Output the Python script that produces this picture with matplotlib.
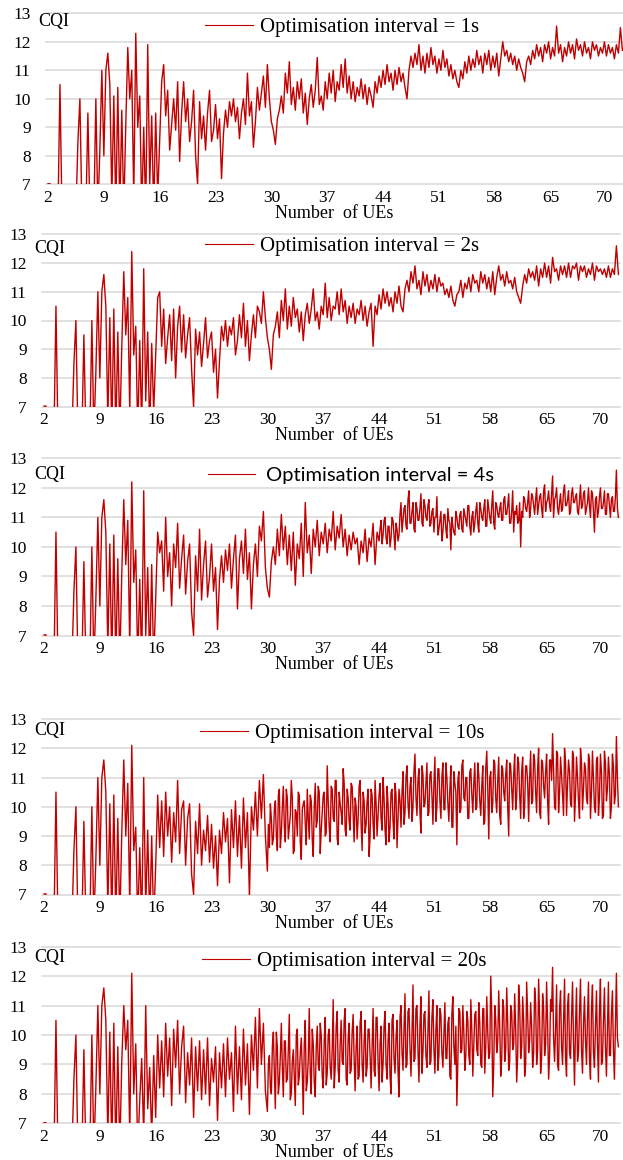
import numpy as np
import matplotlib.pyplot as plt

# CQI versus number of UEs, one panel per optimisation interval.
# Values below 7 fall off the axis (drawn as 6.0 and clipped).

# x = 2.0 .. 11.75, step 0.25 (same start in every run)
cqi_start = [
    7.02, 7.02, 6.0, 6.0, 6.0, 6.0, 10.5, 6.0, 6.0, 6.0,
    6.0, 6.0, 6.0, 6.0, 6.0, 8.5, 10.0, 6.0, 6.0, 6.0,
    9.5, 6.0, 6.0, 6.0, 10.0, 6.0, 8.2, 11.0, 8.0, 11.0,
    11.6, 10.5, 6.5, 10.1, 6.0, 10.4, 6.0, 9.6, 6.0, 9.1,
]

# x = 12.0 .. 74.0, step 0.25
cqi_1s = [
    11.8, 10.0, 11.0, 6.5, 12.3, 9.0, 10.1, 6.0, 9.0, 6.0, 11.9, 7.0, 9.4, 6.0, 9.5, 6.5, 8.5, 10.6, 11.2, 9.4,
    10.3, 8.2, 9.1, 10.0, 8.9, 10.6, 7.8, 9.5, 10.6, 9.2, 10.0, 8.5, 9.2, 10.3, 8.0, 7.0, 9.9, 8.6, 9.4, 8.2,
    9.5, 10.3, 8.5, 8.9, 9.8, 8.6, 9.3, 7.2, 8.8, 9.6, 9.0, 9.9, 9.4, 10.0, 9.2, 9.7, 8.6, 9.5, 10.0, 9.1,
    10.9, 9.4, 9.9, 8.3, 9.2, 10.4, 9.6, 10.2, 10.8, 9.7, 11.2, 10.0, 9.2, 8.9, 8.4, 9.3, 9.6, 10.1, 9.5, 10.9,
    10.2, 11.3, 9.8, 10.4, 9.6, 10.6, 10.0, 10.7, 9.5, 10.2, 9.1, 10.0, 10.5, 9.7, 10.3, 11.45, 9.8, 10.1, 9.6, 10.6,
    10.0, 10.9, 10.2, 11.0, 9.9, 10.6, 10.3, 11.2, 10.4, 11.4, 10.2, 10.8, 10.0, 10.6, 9.9, 10.4, 10.1, 10.7, 10.0, 10.5,
    9.8, 10.4, 10.1, 9.7, 10.6, 10.2, 10.8, 10.4, 11.0, 10.5, 11.2, 10.6, 10.9, 10.3, 11.0, 10.5, 11.1, 10.6, 10.9, 10.4,
    10.0, 11.0, 11.5, 11.1, 11.6, 11.2, 11.9, 11.0, 11.5, 10.9, 11.6, 11.1, 11.8, 11.2, 11.5, 10.9, 11.4, 11.0, 11.7, 11.1,
    11.4, 10.8, 11.2, 10.7, 11.0, 10.6, 10.4, 11.0, 10.7, 11.3, 10.9, 11.5, 11.0, 11.4, 11.1, 11.7, 11.2, 11.5, 10.9, 11.6,
    11.2, 11.7, 11.0, 11.5, 11.1, 11.6, 10.8, 11.4, 12.0, 11.5, 11.7, 11.3, 11.6, 11.2, 11.5, 11.0, 11.4, 11.1, 10.9, 10.6,
    11.3, 11.5, 11.2, 11.7, 11.4, 11.9, 11.5, 11.8, 11.3, 11.9, 11.6, 12.0, 11.4, 11.8, 11.5, 12.55, 11.6, 11.9, 11.3, 11.8,
    11.5, 12.0, 11.6, 11.9, 11.4, 12.1, 11.7, 11.9, 11.5, 12.0, 11.6, 11.8, 11.4, 12.0, 11.7, 11.9, 11.5, 11.8, 11.6, 12.0,
    11.5, 11.9, 11.6, 11.8, 11.4, 11.9, 11.6, 12.5, 11.7,
]

cqi_2s = [
    11.7, 9.5, 10.8, 6.8, 12.4, 8.8, 9.8, 6.0, 9.3, 6.2, 11.8, 7.2, 9.6, 6.0, 9.2, 6.8, 8.8, 10.8, 11.0, 9.1,
    10.4, 8.5, 9.4, 10.2, 8.6, 10.4, 8.0, 9.8, 10.5, 8.9, 10.2, 8.7, 9.5, 10.1, 8.3, 7.0, 9.7, 8.8, 9.6, 8.4,
    9.2, 10.1, 8.7, 9.3, 9.6, 8.2, 9.0, 7.3, 8.6, 9.8, 9.3, 10.0, 9.1, 9.8, 9.5, 10.1, 8.8, 9.3, 10.2, 9.4,
    10.6, 9.1, 10.0, 8.6, 9.5, 10.2, 9.4, 10.5, 10.3, 9.9, 11.0, 10.1, 9.4, 9.0, 8.3, 9.5, 9.8, 10.3, 9.4, 10.7,
    10.0, 11.1, 9.7, 10.5, 9.8, 10.8, 10.1, 10.4, 9.6, 10.3, 9.3, 10.2, 10.6, 9.9, 10.4, 11.1, 10.0, 10.3, 9.7, 10.5,
    10.2, 11.3, 10.1, 10.8, 10.0, 10.5, 10.4, 11.0, 10.2, 11.1, 10.3, 10.7, 9.9, 10.5, 10.1, 10.6, 9.9, 10.4, 10.2, 10.7,
    10.0, 10.5, 9.8, 10.3, 10.6, 9.1, 10.5, 10.2, 10.9, 10.4, 11.1, 10.6, 11.0, 10.5, 10.8, 10.3, 11.0, 10.6, 11.2, 10.5,
    10.3, 11.1, 11.4, 11.0, 11.7, 11.3, 11.9, 11.1, 11.4, 10.9, 11.7, 11.2, 11.6, 11.0, 11.4, 11.1, 11.6, 11.0, 11.5, 11.2,
    11.3, 10.9, 11.1, 10.8, 11.2, 10.7, 10.5, 10.9, 11.0, 11.4, 10.8, 11.3, 11.1, 11.5, 11.0, 11.6, 11.3, 11.4, 11.0, 11.7,
    11.3, 11.6, 11.1, 11.5, 11.0, 11.7, 10.9, 11.5, 11.9, 11.4, 11.6, 11.2, 11.7, 11.3, 11.4, 11.1, 11.5, 11.0, 10.8, 10.6,
    11.2, 11.6, 11.3, 11.8, 11.5, 11.7, 11.4, 11.9, 11.2, 11.8, 11.5, 12.0, 11.5, 11.9, 11.3, 12.2, 11.7, 11.8, 11.4, 11.9,
    11.6, 11.9, 11.5, 12.0, 11.5, 11.9, 11.8, 12.0, 11.4, 11.9, 11.7, 11.9, 11.5, 11.8, 11.6, 12.0, 11.4, 11.9, 11.7, 11.8,
    11.6, 11.8, 11.5, 11.9, 11.5, 11.8, 11.6, 12.6, 11.6,
]

cqi_4s = [
    11.6, 9.4, 10.9, 6.5, 12.2, 8.8, 9.9, 6.0, 8.9, 6.0, 11.9, 7.0, 9.3, 6.0, 9.4, 6.0, 8.2, 10.5, 9.8, 10.2,
    8.5, 11.0, 9.0, 9.8, 8.0, 10.1, 9.3, 10.8, 8.6, 9.6, 10.4, 8.4, 9.5, 10.1, 7.8, 7.0, 9.7, 8.5, 10.6, 8.2,
    9.4, 10.2, 8.3, 9.0, 10.1, 8.5, 9.3, 7.2, 8.9, 9.7, 8.8, 9.9, 9.2, 10.1, 8.6, 9.6, 10.4, 7.9, 9.6, 10.2,
    9.1, 10.6, 8.9, 9.8, 7.9, 9.4, 10.1, 9.0, 10.7, 10.2, 11.2, 9.3, 8.6, 8.3, 9.5, 10.0, 9.4, 10.6, 9.7, 11.1,
    9.9, 10.7, 9.4, 10.4, 9.2, 10.5, 8.7, 10.1, 9.6, 10.8, 9.0, 11.5, 9.8, 10.4, 9.1, 10.6, 10.0, 10.9, 9.7, 10.5,
    10.1, 10.8, 9.8, 10.6, 10.2, 11.2, 9.9, 10.7, 10.3, 11.1, 10.0, 10.6, 9.7, 10.4, 9.9, 10.5, 10.1, 10.3, 9.4, 10.2,
    9.8, 10.6, 9.5, 10.3, 10.0, 10.8, 9.4, 10.5, 10.2, 10.9, 10.4, 11.0, 10.1, 10.7, 10.3, 10.9, 9.9, 10.6, 10.4, 11.5,
    10.9, 11.4, 10.6, 11.9, 10.8, 11.5, 10.5, 11.3, 10.9, 11.8, 10.7, 11.4, 10.9, 11.6, 10.8, 11.3, 11.0, 11.7, 10.6, 11.2,
    10.5, 11.1, 10.3, 10.9, 9.9, 10.7, 10.4, 11.0, 10.6, 11.2, 10.5, 11.1, 10.7, 11.4, 10.4, 11.2, 10.8, 11.5, 10.5, 11.3,
    10.9, 11.6, 10.7, 11.3, 10.8, 11.9, 10.6, 11.4, 11.0, 11.5, 10.9, 11.7, 11.1, 11.8, 10.8, 11.9, 11.2, 11.4, 10.9, 10.0,
    11.0, 11.6, 11.2, 11.9, 11.3, 11.7, 11.1, 12.0, 11.4, 11.8, 11.0, 12.1, 11.5, 11.9, 11.2, 12.4, 11.6, 12.0, 11.1, 11.8,
    11.3, 12.1, 11.4, 11.9, 11.2, 12.0, 11.5, 11.8, 11.1, 12.1, 11.4, 11.9, 11.3, 12.0, 11.0, 11.8, 10.5, 11.7, 11.2, 12.0,
    11.3, 11.9, 11.1, 11.8, 11.0, 11.7, 11.2, 12.6, 11.0,
]

cqi_10s = [
    11.6, 9.0, 10.8, 6.5, 12.1, 8.5, 9.3, 6.0, 8.6, 6.0, 11.0, 6.5, 9.2, 6.0, 9.0, 6.0, 8.0, 10.4, 8.6, 10.2,
    8.3, 10.5, 9.0, 10.0, 8.1, 9.8, 8.8, 10.9, 8.4, 9.9, 10.2, 8.0, 9.6, 10.1, 7.7, 7.0, 9.5, 8.4, 10.1, 8.0,
    9.2, 8.5, 9.7, 8.1, 9.4, 7.9, 9.0, 7.3, 9.2, 8.4, 9.8, 8.8, 9.6, 7.4, 9.9, 8.6, 10.2, 8.3, 9.7, 7.9,
    10.3, 8.6, 9.8, 6.9, 10.0, 9.2, 10.5, 9.0, 10.9, 9.6, 11.1, 9.0, 7.8, 8.6, 9.6, 8.9, 10.2, 8.5, 10.6, 9.1,
    10.7, 8.8, 10.3, 9.3, 10.9, 8.4, 9.9, 9.0, 10.4, 8.2, 10.1, 9.4, 10.6, 8.9, 10.2, 8.3, 10.8, 9.5, 10.5, 9.2,
    10.4, 9.0, 11.4, 9.3, 10.7, 9.6, 10.9, 8.9, 10.5, 9.8, 11.3, 9.2, 10.6, 9.5, 10.8, 9.7, 10.3, 8.9, 10.7, 9.4,
    10.5, 9.1, 10.2, 8.3, 10.6, 9.4, 10.9, 9.0, 10.4, 9.6, 11.0, 9.2, 10.7, 8.8, 10.5, 9.5, 10.8, 8.6, 10.6, 9.3,
    11.2, 9.8, 11.4, 9.6, 11.0, 10.0, 11.8, 9.7, 11.3, 9.1, 11.1, 10.1, 11.5, 9.8, 11.2, 9.4, 11.7, 10.0, 11.3, 9.6,
    11.5, 9.9, 11.0, 9.5, 11.4, 9.3, 10.8, 8.7, 11.2, 9.9, 11.6, 10.2, 11.0, 9.6, 11.3, 9.8, 11.5, 10.0, 11.1, 9.7,
    11.4, 9.5, 11.9, 8.9, 11.2, 10.1, 11.5, 9.8, 11.7, 9.4, 11.3, 10.2, 11.6, 9.0, 11.4, 9.9, 11.8, 10.3, 11.5, 9.6,
    11.7, 10.0, 11.4, 9.5, 11.9, 10.2, 11.6, 9.8, 12.0, 9.6, 11.5, 10.3, 11.8, 9.4, 11.6, 12.5, 10.0, 11.9, 9.8, 11.7,
    10.4, 12.0, 9.7, 11.6, 10.1, 11.9, 9.5, 11.7, 10.2, 12.0, 9.9, 11.5, 10.3, 11.8, 9.6, 11.9, 10.0, 11.6, 9.7, 11.8,
    9.6, 11.9, 10.2, 11.7, 9.6, 11.8, 10.1, 12.4, 10.0,
]

cqi_20s = [
    11.0, 9.5, 10.5, 6.5, 12.1, 8.0, 9.7, 6.0, 7.8, 9.2, 6.5, 11.0, 7.5, 8.9, 6.5, 9.3, 7.2, 10.0, 8.2, 9.8,
    7.9, 10.4, 8.6, 9.9, 7.6, 10.2, 8.9, 10.5, 8.0, 9.6, 10.3, 7.7, 9.4, 8.3, 9.9, 7.2, 9.6, 8.1, 9.8, 7.8,
    9.5, 8.0, 9.9, 7.6, 9.2, 8.4, 9.6, 7.1, 9.4, 8.2, 9.7, 7.9, 9.9, 8.5, 9.4, 7.4, 10.3, 8.0, 9.6, 7.8,
    10.2, 8.3, 9.7, 7.3, 10.0, 8.8, 10.6, 8.2, 10.9, 9.0, 10.4, 8.1, 7.4, 9.3, 8.0, 10.1, 7.5, 9.6, 8.4, 10.4,
    7.9, 9.8, 8.5, 10.7, 8.0, 9.5, 7.6, 10.2, 8.6, 9.9, 7.3, 10.5, 8.4, 10.9, 8.0, 9.7, 7.9, 10.3, 8.8, 10.0,
    8.2, 10.6, 8.7, 10.2, 8.5, 11.2, 8.9, 10.8, 8.4, 10.5, 9.0, 10.9, 8.3, 10.4, 8.8, 10.7, 8.1, 10.3, 8.6, 10.8,
    8.4, 10.5, 8.9, 10.2, 8.2, 10.9, 8.6, 10.6, 8.1, 10.3, 9.0, 10.8, 8.5, 10.4, 8.0, 10.7, 8.7, 10.5, 7.9, 11.0,
    8.8, 11.4, 9.0, 10.9, 8.6, 11.7, 9.2, 11.0, 8.4, 11.3, 9.4, 10.8, 8.9, 11.5, 9.1, 11.2, 8.7, 11.0, 9.3, 10.7,
    8.9, 11.1, 9.2, 10.6, 8.5, 11.3, 9.0, 7.6, 10.9, 9.4, 11.0, 8.8, 10.8, 9.3, 11.2, 8.6, 10.7, 9.5, 11.1, 9.0,
    10.9, 8.7, 11.3, 9.2, 12.0, 7.9, 11.0, 9.4, 11.5, 8.6, 11.2, 9.1, 11.6, 8.8, 11.0, 9.5, 11.4, 8.4, 11.7, 9.2,
    11.3, 8.6, 11.8, 9.4, 11.1, 8.9, 11.6, 9.0, 11.9, 8.7, 11.4, 9.3, 11.8, 8.5, 11.2, 12.3, 9.1, 11.7, 8.8, 11.5,
    9.0, 11.9, 8.6, 11.4, 9.2, 11.8, 8.3, 11.6, 9.4, 11.9, 8.7, 11.3, 9.0, 11.8, 8.5, 11.7, 8.9, 11.5, 8.4, 11.9,
    9.1, 11.6, 8.6, 11.8, 9.3, 11.5, 8.5, 12.1, 9.6,
]

# extra samples half way between the ones above, where the trace is densest
# 4s: x = 44.125 .. 73.875
cqi_4s_mid = [
    10.6, 10.1, 10.9, 10.3, 10.7, 10.0, 11.0, 10.4, 10.8, 10.2, 11.1, 10.5, 11.3, 10.7, 11.6, 10.8, 11.2, 10.6, 11.5, 10.9,
    11.3, 10.8, 11.6, 11.0, 11.4, 10.7, 11.2, 10.5, 11.0, 10.4, 10.9, 10.2, 11.1, 10.6, 11.3, 10.8, 11.0, 10.5, 11.2, 10.7,
    11.1, 10.6, 11.3, 10.9, 11.4, 10.7, 11.0, 10.5, 11.2, 10.8, 11.5, 11.0, 11.3, 10.7, 11.6, 11.0, 11.4, 10.8, 11.5, 11.1,
    11.3, 10.9, 11.6, 11.1, 11.4, 10.8, 11.2, 10.5, 11.1, 10.8, 11.5, 11.2, 11.7, 11.3, 11.5, 11.0, 11.8, 11.4, 11.6, 11.1,
    11.7, 11.3, 11.9, 11.2, 11.6, 11.4, 11.8, 11.0, 11.7, 11.3, 11.5, 11.2, 11.9, 11.4, 11.6, 11.1, 11.8, 11.5, 11.7, 11.2,
    11.6, 11.3, 11.8, 11.1, 11.5, 11.4, 11.9, 11.2, 11.6, 11.0, 11.7, 11.3, 11.5, 11.1, 11.8, 11.4, 11.6, 11.2, 11.7, 11.3,
]

# 10s: x = 30.125 .. 73.875
cqi_10s_mid = [
    9.4, 10.1, 8.7, 9.9, 9.0, 10.4, 8.6, 10.0, 9.3, 10.6, 8.9, 9.7, 10.3, 8.5, 9.8, 10.5, 8.8, 9.9, 10.2, 8.7,
    9.6, 10.4, 8.9, 10.0, 9.3, 10.7, 8.4, 9.8, 10.5, 9.1, 10.2, 8.8, 10.6, 9.5, 10.9, 8.7, 10.1, 9.4, 10.8, 9.0,
    10.3, 9.2, 10.7, 8.8, 10.0, 9.6, 10.9, 8.5, 10.2, 9.4, 10.6, 9.0, 10.4, 8.9, 10.1, 9.7, 10.8, 9.2, 10.3, 8.7,
    10.1, 9.3, 10.6, 8.9, 10.4, 9.6, 10.2, 10.5, 9.4, 11.0, 10.1, 10.7, 9.5, 11.2, 10.3, 10.9, 9.8, 11.4, 10.0, 10.8,
    9.7, 11.1, 10.4, 10.8, 9.5, 11.3, 10.2, 11.0, 9.9, 11.5, 10.1, 10.6, 9.3, 11.2, 10.5, 10.9, 9.8, 11.4, 10.3, 11.0,
    9.6, 11.2, 10.4, 10.8, 9.9, 11.5, 10.2, 10.7, 9.4, 11.3, 10.6, 11.0, 9.8, 11.6, 10.3, 10.9, 9.7, 11.4, 10.5, 11.1,
    10.0, 11.5, 10.6, 11.1, 9.9, 11.7, 10.4, 11.2, 9.6, 11.4, 10.8, 11.0, 10.1, 11.8, 10.5, 11.3, 9.8, 11.6, 10.7, 11.2,
    10.2, 11.6, 10.9, 11.3, 9.9, 11.8, 10.5, 11.1, 9.7, 11.5, 10.8, 11.2, 10.0, 11.7, 10.4, 11.0, 9.6, 11.5, 10.6, 11.3,
    10.1, 11.6, 10.5, 11.0, 9.8, 11.7, 10.3, 11.2, 9.7, 11.5, 10.6, 11.1, 10.0, 11.4, 10.4, 11.0,
]

# 20s: x = 30.125 .. 73.875
cqi_20s_mid = [
    9.0, 8.2, 9.6, 8.7, 10.1, 8.0, 9.3, 8.9, 9.8, 8.4, 9.5, 7.8, 9.1, 8.6, 10.0, 8.3, 9.4, 8.8, 9.7, 8.1,
    9.2, 8.7, 10.2, 8.4, 9.6, 9.0, 10.4, 8.6, 9.8, 8.3, 10.0, 8.9, 9.5, 8.2, 10.3, 8.8, 9.7, 9.1, 10.5, 8.5,
    9.9, 8.7, 10.1, 9.2, 9.6, 8.5, 10.4, 9.0, 9.8, 8.6, 10.2, 9.3, 9.5, 8.8, 10.6, 9.1, 9.7, 8.4, 10.3, 9.0,
    9.8, 8.6, 10.5, 9.2, 9.9, 8.8, 10.6, 9.4, 10.2, 8.9, 10.8, 9.6, 10.0, 9.1, 10.9, 9.5, 10.3, 8.7, 10.7, 9.3,
    10.1, 9.0, 10.6, 9.5, 10.2, 8.8, 10.9, 9.4, 10.0, 9.2, 10.4, 8.6, 10.7, 9.6, 10.3, 9.1, 10.8, 9.5, 10.1, 9.3,
    10.5, 9.0, 10.2, 9.7, 10.8, 9.3, 10.4, 8.9, 10.9, 9.6, 10.1, 9.4, 10.7, 9.0, 10.5, 9.8, 10.3, 9.2, 10.9, 9.5,
    10.4, 9.1, 10.8, 9.7, 10.2, 9.3, 11.0, 9.6, 10.5, 9.0, 10.7, 9.8, 10.3, 9.4, 11.1, 9.5, 10.6, 9.2, 10.9, 9.7,
    10.4, 9.3, 10.8, 9.9, 10.2, 9.0, 10.9, 9.6, 10.5, 9.2, 11.0, 9.4, 10.6, 9.7, 10.3, 9.1, 10.8, 9.5, 10.4, 9.8,
    10.6, 9.2, 10.9, 9.4, 10.3, 9.7, 10.8, 9.0, 10.5, 9.6, 10.2, 9.3, 10.7, 9.5, 10.4, 9.9,
]

series = [cqi_1s, cqi_2s, cqi_4s, cqi_10s, cqi_20s]
extras = [None, None, (44.125, cqi_4s_mid), (30.125, cqi_10s_mid), (30.125, cqi_20s_mid)]
legend_labels = ['Optimisation interval = 1s', 'Optimisation interval = 2s',
                 'Optimisation interval = 4s', 'Optimisation interval = 10s',
                 'Optimisation interval = 20s']
xtick_pos = [2, 9, 16, 23, 30, 37, 44, 51, 58, 65, 71.8]
xtick_labels = ['2', '9', '16', '23', '30', '37', '44', '51', '58', '65', '70']
yticks = [7, 8, 9, 10, 11, 12, 13]

W, H = 623, 1160
RED = '#C00000'
SERIF = 'Liberation Serif'

# panel boxes in pixels: left, top(13), right, bottom(7), legend x, legend dy, cqi x, cqi dy
panels = [
    (46, 13.3, 624, 184.3, 205, 14, 38, 8),
    (42, 234.3, 620, 406.7, 205, 12, 34, 14),
    (42, 458.3, 620, 635.5, 208, 17, 34, 16),
    (42, 719.0, 620, 894.5, 200, 14, 34, 11),
    (42, 946.7, 620, 1123.3, 202, 15, 34, 11),
]

fig = plt.figure(figsize=(W / 100, H / 100), dpi=100)

for k, (vals, extra, lab, box) in enumerate(zip(series, extras, legend_labels, panels)):
    L, T, R, B, lx, ldy, cx, cdy = box
    ax = fig.add_axes([L / W, 1 - B / H, (R - L) / W, (B - T) / H])
    y = np.array(cqi_start + vals)
    x = np.concatenate([2 + 0.25 * np.arange(len(cqi_start)),
                        12 + 0.25 * np.arange(len(vals))])
    if extra is not None:
        x0, mid = extra
        x = np.concatenate([x, x0 + 0.25 * np.arange(len(mid))])
        y = np.concatenate([y, mid])
        order = np.argsort(x, kind='stable')
        x, y = x[order], y[order]
    ax.plot(x, y, color=RED, lw=1.0, label=lab)
    ax.set_xlim(1.75, 74.2)
    ax.set_ylim(7, 13)
    ax.set_yticks(yticks)
    ax.set_xticks(xtick_pos, xtick_labels)
    ax.grid(axis='y', color='#D9D9D9', lw=1.1)
    for gl in ax.get_ygridlines():
        gl.set_clip_on(False)
    ax.set_axisbelow(True)
    for s in ax.spines.values():
        s.set_visible(False)
    ax.tick_params(axis='y', length=0, pad=11, labelsize=12.5)
    ax.tick_params(axis='x', length=0, pad=4, labelsize=12.5)
    for t in ax.get_xticklabels() + ax.get_yticklabels():
        t.set_fontfamily(SERIF)

    if k == 2:
        prop = {'family': 'Lato', 'size': 14.5}
        hl, hp = 2.35, 0.55
    else:
        prop = {'family': SERIF, 'size': 15}
        hl, hp = 2.3, 0.34
    leg = ax.legend(loc='center left', bbox_to_anchor=(lx / W, 1 - (T + ldy) / H),
                    bbox_transform=fig.transFigure, frameon=False, borderpad=0,
                    borderaxespad=0, handlelength=hl, handletextpad=hp, prop=prop)
    for h in leg.get_lines():
        h.set_linewidth(0.8)

    fig.text(cx / W, 1 - (T + cdy) / H, 'CQI', family=SERIF, fontsize=13,
             ha='left', va='center')
    fig.text(334 / W, 1 - (B + 29) / H, 'Number  of UEs', family=SERIF,
             fontsize=13, ha='center', va='center')

fig.savefig('out.png', dpi=100)
